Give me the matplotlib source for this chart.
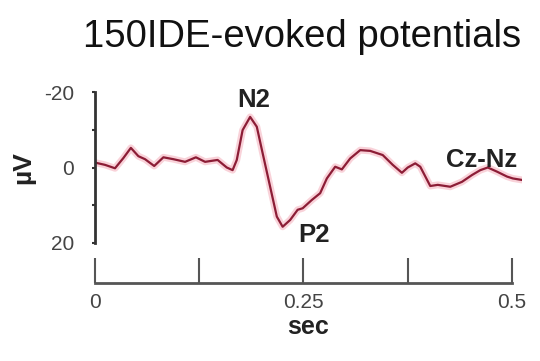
import matplotlib
matplotlib.use('Agg')
import matplotlib.pyplot as plt

plt.rcParams['font.family'] = ['Liberation Sans', 'DejaVu Sans']

# time (sec) and potential (uV)
t = [0.000, 0.012, 0.024, 0.034, 0.043, 0.052, 0.060, 0.071, 0.082, 0.094,
     0.108, 0.121, 0.132, 0.147, 0.158, 0.165, 0.170, 0.177, 0.186, 0.194,
     0.201, 0.210, 0.218, 0.225, 0.234, 0.243, 0.249, 0.260, 0.270, 0.278,
     0.288, 0.296, 0.306, 0.318, 0.330, 0.345, 0.357, 0.368, 0.375, 0.384,
     0.390, 0.402, 0.411, 0.426, 0.440, 0.452, 0.462, 0.471, 0.482, 0.494,
     0.501, 0.512]
uv = [-1.3, -0.7, 0.2, -2.5, -5.2, -3.0, -2.2, -0.4, -2.7, -2.2,
      -1.5, -2.7, -1.5, -2.0, 0.0, 0.7, -2.0, -9.9, -13.4, -10.8,
      -3.8, 5.1, 13.0, 15.7, 13.9, 11.2, 10.8, 8.6, 6.8, 2.9,
      -0.2, 0.5, -2.4, -4.6, -4.4, -3.3, -0.7, 1.4, 0.0, -1.1,
      -0.2, 4.9, 4.6, 5.1, 3.8, 2.0, 0.7, 0.0, 1.1, 2.4,
      2.9, 3.3]

xticks = [0, 0.125, 0.25, 0.375, 0.5]
xticklabels = ['0', '', '0.25', '', '0.5']
yticks = [-20, -10, 0, 10, 20]
yticklabels = ['-20', '', '0', '', '20']

fig = plt.figure(figsize=(5.4, 3.61), dpi=100)
ax = fig.add_axes([95/540, 1-243/361, 427/540, 151/361])

# pink halo under the dark red trace
ax.plot(t, uv, color='#f5b5c0', lw=5, alpha=0.6, solid_capstyle='round')
ax.plot(t, uv, color='#8c1d36', lw=1.6)

ax.set_xlim(0, 0.512)
ax.set_ylim(20, -20)

for s in ['top', 'right']:
    ax.spines[s].set_visible(False)
ax.spines['left'].set_bounds(-20, 20)
ax.spines['left'].set_linewidth(2)
ax.spines['left'].set_color('#333333')
ax.spines['bottom'].set_position(('outward', 29))
ax.spines['bottom'].set_bounds(0, 0.5)
ax.spines['bottom'].set_linewidth(2)
ax.spines['bottom'].set_color('#555555')

ax.set_xticks(xticks)
ax.set_xticklabels(xticklabels)
ax.set_yticks(yticks)
ax.set_yticklabels(yticklabels)
ax.tick_params(axis='x', direction='in', length=18, width=1.5, color='#555555',
               labelsize=15, labelcolor='#444444', pad=7)
ax.tick_params(axis='y', direction='out', length=2, width=1.5, color='#333333',
               labelsize=15, labelcolor='#444444', pad=13)

ax.set_xlabel('sec', fontsize=18, fontweight='bold', color='#222222', labelpad=2)
ax.set_ylabel('µV', fontsize=19, fontweight='bold', color='#222222', labelpad=6)

fig.text(302/540, 1-37/361, '150IDE-evoked potentials', fontsize=27.5,
         ha='center', va='center', color='#111111')

ax.text(0.190, -17.8, 'N2', fontsize=18.5, fontweight='bold', ha='center', va='center', color='#222222')
ax.text(0.263, 17.8, 'P2', fontsize=18.5, fontweight='bold', ha='center', va='center', color='#222222')
ax.text(0.463, -2.0, 'Cz-Nz', fontsize=18.5, fontweight='bold', ha='center', va='center', color='#222222')

fig.savefig('out.png', dpi=100)
